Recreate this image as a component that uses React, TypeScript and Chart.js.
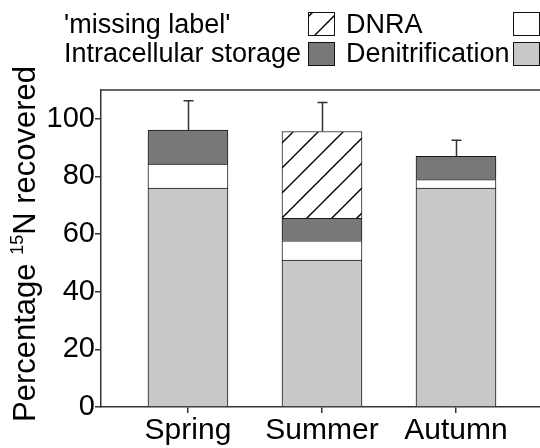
import React, { useEffect, useRef } from "react";
import { Chart, registerables } from "chart.js";

Chart.register(...registerables);

// ---- data ----
const categories = ["Spring", "Summer", "Autumn"];
const categoryPositions = [1, 2, 3];
const denitrification = [76, 51, 76];
const dnra = [8.3, 6.7, 2.9];
const intracellularStorage = [11.8, 7.8, 8.1];
const missingLabel: (number | null)[] = [null, 30.1, null];
const upperErrors = [10.2, 10.1, 5.6];
const yTickValues = [0, 20, 40, 60, 80, 100];

const FONT = "'Liberation Sans', Arial, Helvetica, sans-serif";

function makeHatch(): CanvasPattern | string {
  const c = document.createElement("canvas");
  const s = 25;
  c.width = s;
  c.height = s;
  const g = c.getContext("2d");
  if (!g) return "#fff";
  g.fillStyle = "#ffffff";
  g.fillRect(0, 0, s, s);
  g.strokeStyle = "#000000";
  g.lineWidth = 1.4;
  g.beginPath();
  g.moveTo(-2, s + 2);
  g.lineTo(s + 2, -2);
  g.moveTo(-2, 2);
  g.lineTo(2, -2);
  g.moveTo(s - 2, s + 2);
  g.lineTo(s + 2, s - 2);
  g.stroke();
  const p = g.createPattern(c, "repeat");
  return p || "#fff";
}

const legendPlugin = {
  id: "customLegend",
  afterDraw(chart: any) {
    const ctx = chart.ctx as CanvasRenderingContext2D;
    const ds = [...chart.data.datasets].reverse();
    const textX = [64, 346];
    const boxX = [308, 513];
    const baseY = [33, 62];
    const boxY = [12, 42];
    ctx.save();
    ctx.font = `27px ${FONT}`;
    ctx.textAlign = "left";
    ctx.textBaseline = "alphabetic";
    ds.forEach((d: any, i: number) => {
      const col = Math.floor(i / 2);
      const row = i % 2;
      ctx.fillStyle = "#000";
      ctx.fillText(d.label, textX[col], baseY[row]);
      ctx.fillStyle = d.backgroundColor;
      ctx.fillRect(boxX[col], boxY[row], 27, 24);
      ctx.strokeStyle = "#111";
      ctx.lineWidth = 1;
      ctx.strokeRect(boxX[col] + 0.5, boxY[row] + 0.5, 26, 23);
    });
    ctx.restore();
  },
};

const titlePlugin = {
  id: "yTitle",
  afterDraw(chart: any) {
    const ctx = chart.ctx as CanvasRenderingContext2D;
    const big = `31px ${FONT}`;
    const small = `18px ${FONT}`;
    const parts = [
      { t: "Percentage ", f: big, dy: 0 },
      { t: "15", f: small, dy: -12 },
      { t: "N recovered", f: big, dy: 0 },
    ];
    ctx.save();
    let total = 0;
    const widths = parts.map((p) => {
      ctx.font = p.f;
      const w = ctx.measureText(p.t).width;
      total += w;
      return w;
    });
    ctx.translate(35, 244);
    ctx.rotate(-Math.PI / 2);
    ctx.fillStyle = "#000";
    ctx.textBaseline = "alphabetic";
    ctx.textAlign = "left";
    let x = -total / 2;
    parts.forEach((p, i) => {
      ctx.font = p.f;
      ctx.fillText(p.t, x, p.dy);
      x += widths[i];
    });
    ctx.restore();
  },
};

const errorFramePlugin = {
  id: "errorFrame",
  afterDatasetsDraw(chart: any) {
    const ctx = chart.ctx as CanvasRenderingContext2D;
    const xs = chart.scales.x;
    const ys = chart.scales.y;
    const area = chart.chartArea;
    ctx.save();
    ctx.strokeStyle = "#333";
    ctx.lineWidth = 1.5;
    ctx.beginPath();
    ctx.moveTo(area.left, area.top);
    ctx.lineTo(area.right, area.top);
    ctx.stroke();
    categoryPositions.forEach((pos, i) => {
      let total = 0;
      chart.data.datasets.forEach((d: any) => {
        const v = d.data[i]?.y;
        if (typeof v === "number") total += v;
      });
      const x = Math.round(xs.getPixelForValue(pos)) + 0.5;
      const y0 = ys.getPixelForValue(total);
      const y1 = ys.getPixelForValue(total + upperErrors[i]);
      ctx.beginPath();
      ctx.moveTo(x, y0);
      ctx.lineTo(x, y1);
      ctx.moveTo(x - 5, y1);
      ctx.lineTo(x + 5, y1);
      ctx.stroke();
    });
    ctx.restore();
  },
};

export default function App() {
  const ref = useRef<HTMLCanvasElement | null>(null);

  useEffect(() => {
    if (!ref.current) return;
    const hatch = makeHatch();
    const toPts = (arr: (number | null)[]) =>
      arr.map((v, i) => ({ x: categoryPositions[i], y: v }));
    const border = "#1a1a1a";
    const chart = new Chart(ref.current, {
      type: "bar",
      data: {
        datasets: [
          { label: "Denitrification", data: toPts(denitrification), backgroundColor: "#c8c8c8", borderColor: border, borderWidth: 1 },
          { label: "DNRA", data: toPts(dnra), backgroundColor: "#ffffff", borderColor: border, borderWidth: 1 },
          { label: "Intracellular storage", data: toPts(intracellularStorage), backgroundColor: "#787878", borderColor: border, borderWidth: 1 },
          { label: "'missing label'", data: toPts(missingLabel), backgroundColor: hatch as any, borderColor: border, borderWidth: 1 },
        ] as any,
      },
      options: {
        animation: false,
        responsive: false,
        devicePixelRatio: 1,
        layout: { padding: { top: 90, left: 0, right: 0, bottom: 0 } },
        datasets: { bar: { barThickness: 80 } as any },
        plugins: { legend: { display: false }, tooltip: { enabled: false }, title: { display: false } },
        scales: {
          x: {
            type: "linear",
            min: 0.351,
            max: 3.627,
            stacked: true,
            offset: false,
            afterBuildTicks: (s: any) => {
              s.ticks = categoryPositions.map((v) => ({ value: v }));
            },
            afterFit: (s: any) => {
              s.height = 41;
            },
            ticks: {
              callback: (v: any) => categories[categoryPositions.indexOf(Number(v))] ?? "",
              font: { family: FONT, size: 30 },
              color: "#000",
              padding: 0,
              maxRotation: 0,
              autoSkip: false,
            },
            grid: { offset: false, drawOnChartArea: false, drawTicks: true, tickLength: 6, color: "#333", lineWidth: 1.5 },
            border: { display: true, color: "#333", width: 1.5 },
          },
          y: {
            type: "linear",
            min: 0,
            max: 110,
            stacked: true,
            afterBuildTicks: (s: any) => {
              s.ticks = yTickValues.map((v) => ({ value: v }));
            },
            afterFit: (s: any) => {
              s.width = 101;
            },
            ticks: {
              font: { family: FONT, size: 29 },
              color: "#000",
              padding: 0,
              includeBounds: false,
            },
            grid: { drawOnChartArea: false, drawTicks: true, tickLength: 6, color: "#333", lineWidth: 1.5 },
            border: { display: true, color: "#333", width: 1.5 },
          },
        },
      } as any,
      plugins: [legendPlugin, titlePlugin, errorFramePlugin],
    });
    return () => chart.destroy();
  }, []);

  return (
    <div style={{ position: "fixed", left: 0, top: 0, width: 540, height: 448, background: "#fff" }}>
      <canvas ref={ref} width={540} height={448} style={{ display: "block", width: 540, height: 448 }} />
    </div>
  );
}
